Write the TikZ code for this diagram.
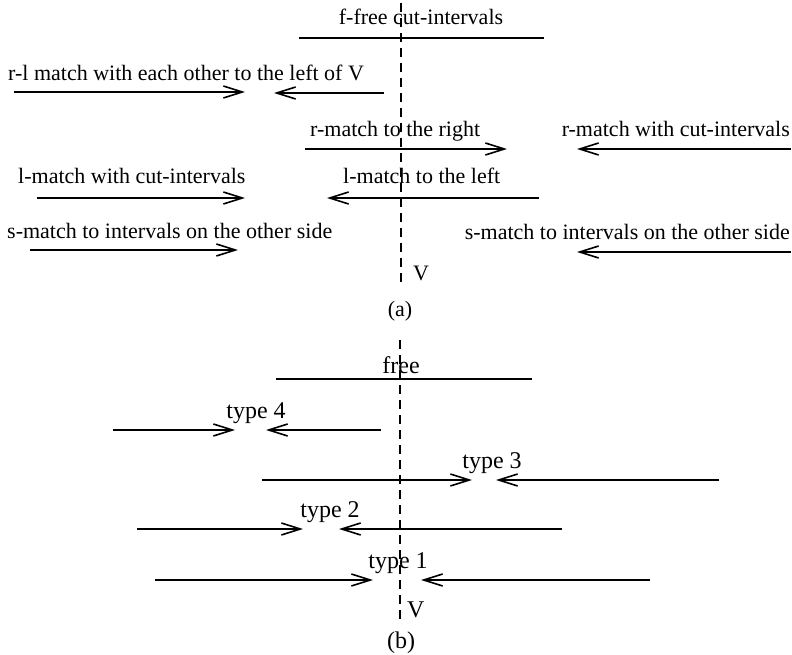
\documentclass[tikz,border=0pt]{standalone}
\usepackage{fontspec}
\setmainfont{Liberation Serif}
\usetikzlibrary{arrows.meta}
\begin{document}
\begin{tikzpicture}[x=1pt,y=-1pt,
  lbla/.style={inner sep=0pt,font=\fontsize{22}{26}\selectfont},
  lblb/.style={inner sep=0pt,font=\fontsize{24}{28}\selectfont},
  seg/.style={line width=1.6pt},
  arr/.style={line width=1.6pt,-{Straight Barb[length=19pt,width=12pt,line width=1.6pt]}},
  vline/.style={line width=1.1pt,dash pattern=on 9pt off 6pt}]
\useasboundingbox (0,0) rectangle (792,655);
% ---------- panel (a)
\coordinate (va1) at (401,3);
\coordinate (va2) at (401,285);
\draw[vline] (va1) -- (va2);
\node[lbla,anchor=base] (ff) at (421,25) {f-free cut-intervals};
\coordinate (ffa) at (299,38); \coordinate (ffb) at (544,38);
\draw[seg] (ffa) -- (ffb);

\node[lbla,anchor=base west] (rl) at (8,81) {r-l match with each other to the left of V};
\coordinate (rl1a) at (14,92); \coordinate (rl1b) at (245,92);
\coordinate (rl2a) at (384,93); \coordinate (rl2b) at (274,93);
\draw[arr] (rl1a) -- (rl1b);
\draw[arr] (rl2a) -- (rl2b);

\node[lbla,anchor=base west] (rr) at (310,137) {r-match to the right};
\coordinate (rra) at (305,149); \coordinate (rrb) at (507,149);
\draw[arr] (rra) -- (rrb);
\node[lbla,anchor=base east] (rc) at (790,137) {r-match with cut-intervals};
\coordinate (rca) at (791,149); \coordinate (rcb) at (577,149);
\draw[arr] (rca) -- (rcb);

\node[lbla,anchor=base west] (lc) at (18,184) {l-match with cut-intervals};
\coordinate (lca) at (37,198); \coordinate (lcb) at (245,198);
\draw[arr] (lca) -- (lcb);
\node[lbla,anchor=base west] (ll) at (343,184) {l-match to the left};
\coordinate (lla) at (539,198); \coordinate (llb) at (327,198);
\draw[arr] (lla) -- (llb);

\node[lbla,anchor=base west] (sl) at (7,238) {s-match to intervals on the other side};
\coordinate (sla) at (30,250); \coordinate (slb) at (238,250);
\draw[arr] (sla) -- (slb);
\node[lbla,anchor=base east] (sr) at (790,240) {s-match to intervals on the other side};
\coordinate (sra) at (791,252); \coordinate (srb) at (577,252);
\draw[arr] (sra) -- (srb);

\node[lbla,anchor=base west] (Va) at (413,280) {V};
\node[lbla,anchor=base] (capa) at (400,316) {(a)};
% ---------- panel (b)
\coordinate (vb1) at (400,340);
\coordinate (vb2) at (400,622);
\draw[vline] (vb1) -- (vb2);
\node[lblb,anchor=base] (free) at (401,373) {free};
\coordinate (fra) at (276,379); \coordinate (frb) at (532,379);
\draw[seg] (fra) -- (frb);

\node[lblb,anchor=base] (t4) at (256,418) {type 4};
\coordinate (t4a) at (113,430); \coordinate (t4b) at (235,430);
\coordinate (t4c) at (381,430); \coordinate (t4d) at (266,430);
\draw[arr] (t4a) -- (t4b);
\draw[arr] (t4c) -- (t4d);

\node[lblb,anchor=base] (t3) at (492,468) {type 3};
\coordinate (t3a) at (262,480); \coordinate (t3b) at (472,480);
\coordinate (t3c) at (719,480); \coordinate (t3d) at (496,480);
\draw[arr] (t3a) -- (t3b);
\draw[arr] (t3c) -- (t3d);

\node[lblb,anchor=base] (t2) at (330,517) {type 2};
\coordinate (t2a) at (137,529); \coordinate (t2b) at (303,529);
\coordinate (t2c) at (562,529); \coordinate (t2d) at (339,529);
\draw[arr] (t2a) -- (t2b);
\draw[arr] (t2c) -- (t2d);

\node[lblb,anchor=base] (t1) at (398,568) {type 1};
\coordinate (t1a) at (155,580); \coordinate (t1b) at (373,580);
\coordinate (t1c) at (650,580); \coordinate (t1d) at (421,580);
\draw[arr] (t1a) -- (t1b);
\draw[arr] (t1c) -- (t1d);

\node[lblb,anchor=base west] (Vb) at (407,617) {V};
\node[lblb,anchor=base] (capb) at (401,648) {(b)};
\end{tikzpicture}
\end{document}
